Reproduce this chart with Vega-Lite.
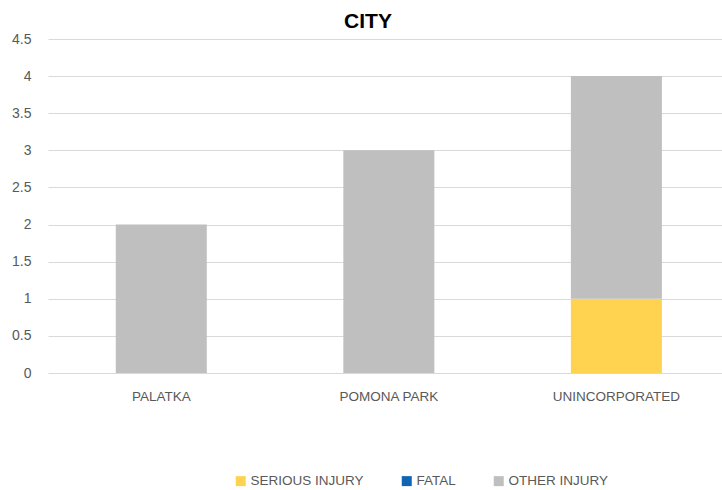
{
  "$schema": "https://vega.github.io/schema/vega-lite/v6.json",
  "width": 674,
  "height": 334,
  "autosize": {"type": "none"},
  "padding": {"left": 48, "top": 39, "right": 0, "bottom": 117},
  "background": "white",
  "title": {
    "text": "CITY",
    "font": "Liberation Sans",
    "fontSize": 21,
    "fontWeight": "bold",
    "color": "#000000",
    "anchor": "middle",
    "dx": -17,
    "offset": 0
  },
  "data": {
    "values": [
      {"city": "PALATKA", "type": "SERIOUS INJURY", "count": 0, "ord": 1},
      {"city": "PALATKA", "type": "FATAL", "count": 0, "ord": 2},
      {"city": "PALATKA", "type": "OTHER INJURY", "count": 2, "ord": 3},
      {"city": "POMONA PARK", "type": "SERIOUS INJURY", "count": 0, "ord": 1},
      {"city": "POMONA PARK", "type": "FATAL", "count": 0, "ord": 2},
      {"city": "POMONA PARK", "type": "OTHER INJURY", "count": 3, "ord": 3},
      {"city": "UNINCORPORATED", "type": "SERIOUS INJURY", "count": 1, "ord": 1},
      {"city": "UNINCORPORATED", "type": "FATAL", "count": 0, "ord": 2},
      {"city": "UNINCORPORATED", "type": "OTHER INJURY", "count": 3, "ord": 3}
    ]
  },
  "mark": {"type": "bar"},
  "encoding": {
    "x": {
      "field": "city",
      "type": "nominal",
      "sort": null,
      "scale": {"paddingInner": 0.6, "paddingOuter": 0.281, "align": 0.53},
      "axis": {
        "title": null,
        "labelAngle": 0,
        "ticks": false,
        "domain": false,
        "grid": false,
        "labelFont": "Liberation Sans",
        "labelFontSize": 13.5,
        "labelColor": "#595959",
        "labelPadding": 16
      }
    },
    "y": {
      "field": "count",
      "type": "quantitative",
      "stack": "zero",
      "scale": {"domain": [0, 4.5], "nice": false},
      "axis": {
        "title": null,
        "values": [0, 0.5, 1, 1.5, 2, 2.5, 3, 3.5, 4, 4.5],
        "format": "~g",
        "ticks": false,
        "domain": false,
        "grid": true,
        "gridColor": "#D9D9D9",
        "gridWidth": 1,
        "labelFont": "Liberation Sans",
        "labelFontSize": 14,
        "labelColor": "#595959",
        "labelPadding": 17
      }
    },
    "color": {
      "field": "type",
      "type": "nominal",
      "sort": ["SERIOUS INJURY", "FATAL", "OTHER INJURY"],
      "scale": {
        "domain": ["SERIOUS INJURY", "FATAL", "OTHER INJURY"],
        "range": ["#FFD34F", "#0F64B4", "#BFBFBF"]
      },
      "legend": {
        "title": null,
        "orient": "none",
        "direction": "horizontal",
        "legendX": 186,
        "legendY": 435,
        "symbolType": "square",
        "symbolSize": 100,
        "symbolStrokeWidth": 0,
        "labelFont": "Liberation Sans",
        "labelFontSize": 13.5,
        "labelColor": "#595959",
        "labelOffset": 3,
        "columnPadding": 36
      }
    },
    "order": {"field": "ord", "type": "quantitative"}
  },
  "config": {"view": {"stroke": null}}
}
